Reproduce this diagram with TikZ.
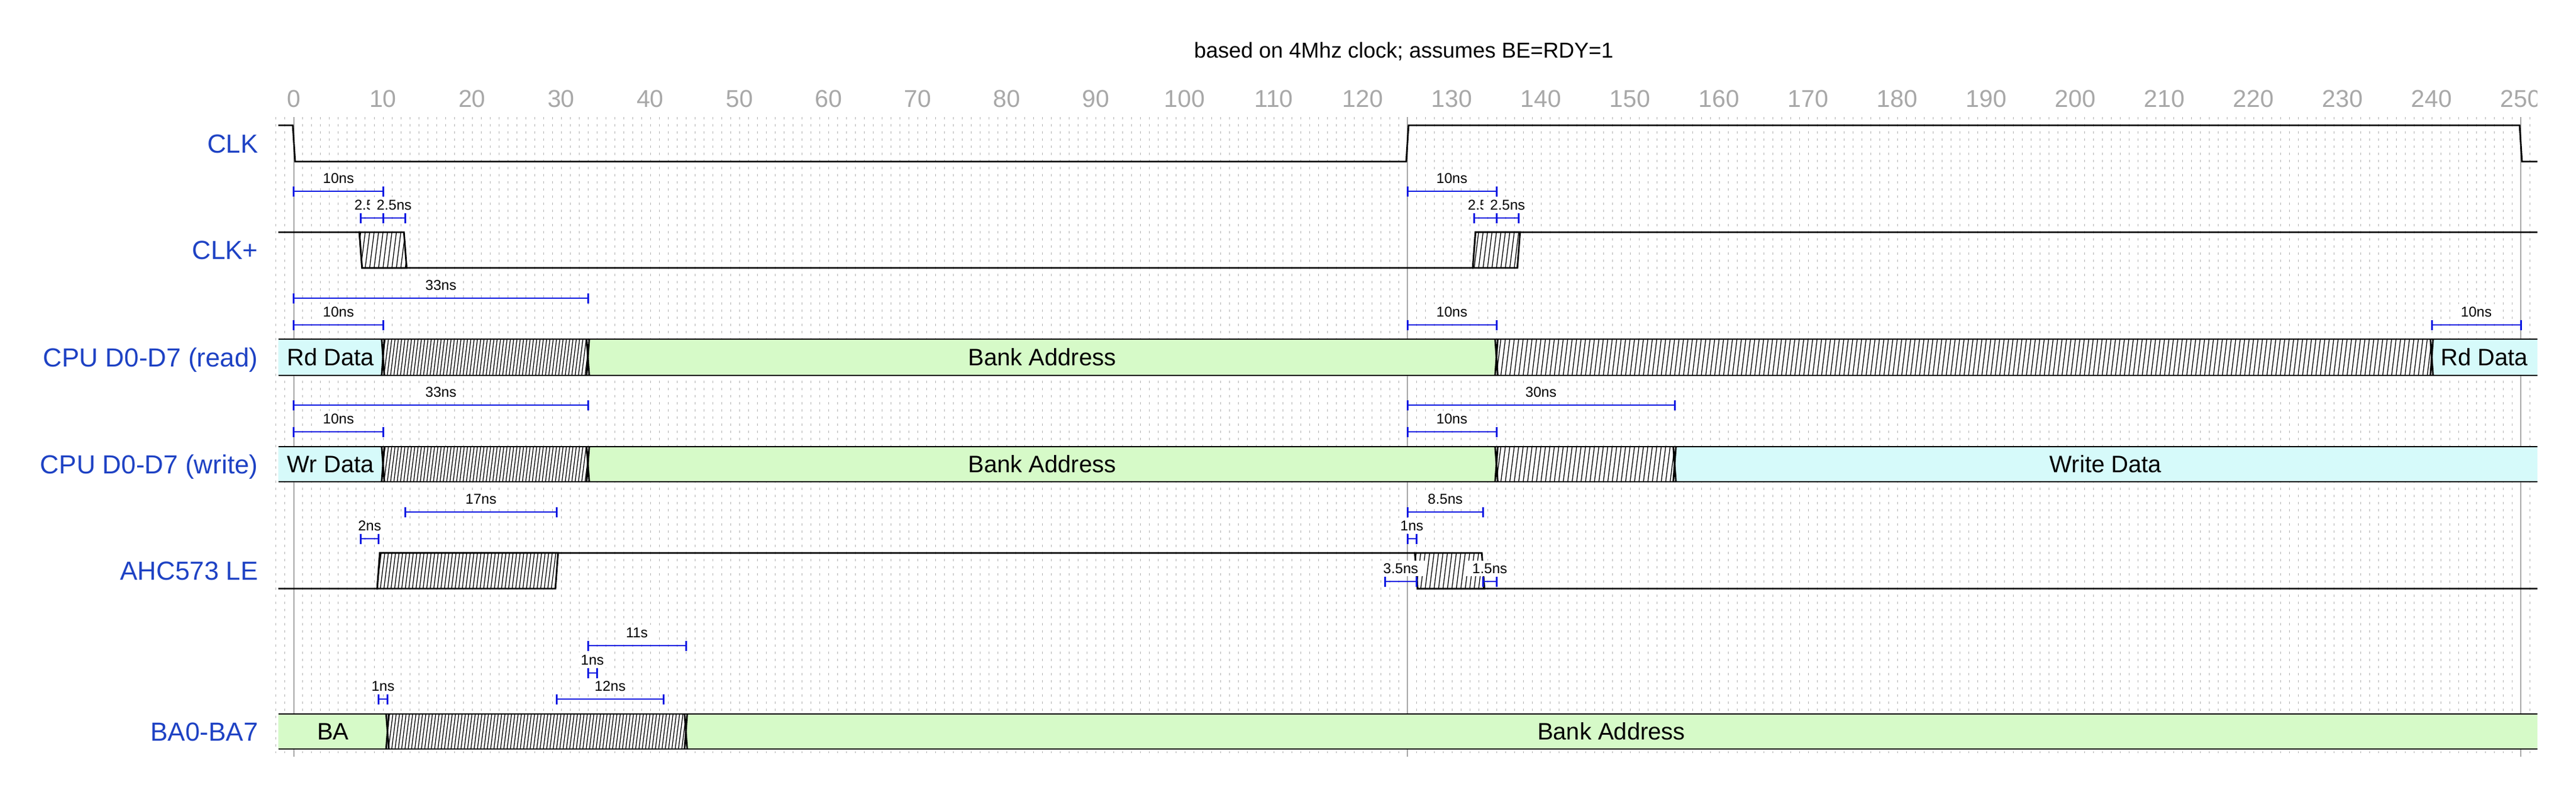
\documentclass[tikz,border=0pt]{standalone}
\usepackage{fontspec}
\setmainfont{Liberation Sans}
\definecolor{lblblue}{RGB}{30,66,196}
\definecolor{barblue}{RGB}{12,24,226}
\definecolor{busgreen}{RGB}{214,250,200}
\definecolor{buscyan}{RGB}{214,250,250}
\definecolor{axisgray}{RGB}{168,168,168}
\definecolor{griddot}{RGB}{178,178,178}
\tikzset{
 sig/.style={line width=1.4pt, black, line join=miter, line cap=butt},
 hatchline/.style={line width=0.65pt, black},
 gridline/.style={griddot, line width=0.5pt, dash pattern=on 2pt off 4pt},
 markerline/.style={axisgray, line width=1pt},
 axisnum/.style={font=\fontsize{20.5}{24}\selectfont, text=axisgray, inner sep=0pt},
 siglabel/.style={font=\fontsize{22}{26}\selectfont, text=lblblue, inner sep=0pt, anchor=east, text height=15.75pt, text depth=0pt},
 bustext/.style={font=\fontsize{20}{24}\selectfont, inner sep=0pt, text height=14.3pt, text depth=0pt},
 measlabel/.style={font=\fontsize{12}{14}\selectfont, fill=white, inner xsep=5.5pt, inner ysep=2pt, text height=8.6pt, text depth=0pt},
 measbar/.style={barblue, line width=1.3pt},
 meastick/.style={barblue, line width=1.5pt},
 titletext/.style={font=\fontsize{18.2}{22}\selectfont, inner sep=0pt},
}
% hatch lines from t0-1 to t1+1
\newcommand\hatchlines[5]{%
 \pgfmathtruncatemacro\hN{(#2-#1+2)/#5}%
 \foreach \i in {0,...,\hN}{\draw[hatchline] ({#1-1+\i*#5},#4) -- ({#1-0.5+\i*#5},#3);}}
% rising hatched transition box
\newcommand\hatchrise[5]{%
 \fill[white] (#1-0.15,#4) -- (#2-0.15,#4) -- (#2+0.15,#3) -- (#1+0.15,#3) -- cycle;
 \begin{scope}
 \clip (#1-0.15,#4) -- (#2-0.15,#4) -- (#2+0.15,#3) -- (#1+0.15,#3) -- cycle;
 \hatchlines{#1}{#2}{#3}{#4}{#5}
 \end{scope}
 \draw[sig] (#1-0.15,#4) -- (#2-0.15,#4) -- (#2+0.15,#3) -- (#1+0.15,#3) -- cycle;}
% falling hatched transition box
\newcommand\hatchfall[5]{%
 \fill[white] (#1-0.15,#3) -- (#2-0.15,#3) -- (#2+0.15,#4) -- (#1+0.15,#4) -- cycle;
 \begin{scope}
 \clip (#1-0.15,#3) -- (#2-0.15,#3) -- (#2+0.15,#4) -- (#1+0.15,#4) -- cycle;
 \hatchlines{#1}{#2}{#3}{#4}{#5}
 \end{scope}
 \draw[sig] (#1-0.15,#3) -- (#2-0.15,#3) -- (#2+0.15,#4) -- (#1+0.15,#4) -- cycle;}
% bus segments
\newcommand\busfill[5]{%
 \fill[#5] (#1+0.15,#3) -- (#2-0.15,#3) -- (#2,{(#3+#4)/2}) -- (#2-0.15,#4) -- (#1+0.15,#4) -- (#1,{(#3+#4)/2}) -- cycle;}
\newcommand\bushatch[5]{%
 \busfill{#1}{#2}{#3}{#4}{white}
 \begin{scope}
 \clip (#1+0.15,#3) -- (#2-0.15,#3) -- (#2,{(#3+#4)/2}) -- (#2-0.15,#4) -- (#1+0.15,#4) -- (#1,{(#3+#4)/2}) -- cycle;
 \hatchlines{#1}{#2}{#3}{#4}{#5}
 \end{scope}}
\newcommand\busedges[2]{%
 \draw[sig] (-1.75,#1) -- (253,#1);
 \draw[sig] (-1.75,#2) -- (253,#2);}
\newcommand\busx[3]{%
 \draw[sig] (#1-0.15,#2) -- (#1,{(#2+#3)/2}) -- (#1-0.15,#3);
 \draw[sig] (#1+0.15,#2) -- (#1,{(#2+#3)/2}) -- (#1+0.15,#3);}
% measurements
\newcommand\measlbl[5]{%
 \node[measlabel] (#1) at ({(#2+#3)/2},#4-22) {#5};}
\newcommand\measbar[3]{%
 \draw[measbar] (#1,#3) -- (#2,#3);
 \draw[meastick] (#1,#3-8.5) -- (#1,#3+8.5);
 \draw[meastick] (#2,#3-8.5) -- (#2,#3+8.5);}
\begin{document}
\begin{tikzpicture}[x=7.5pt,y=-0.5pt]
\fill[white] (-33,0) rectangle (256.2,1324);
\useasboundingbox (-33,0) rectangle (256.2,1324);
\begin{scope}
\clip (-33,0) rectangle (251.85,1324);
% grid
\foreach \t in {-2,...,251} \draw[gridline] (\t,197) -- (\t,1268);
\foreach \t in {0,125,250} \draw[markerline] (\t,197) -- (\t,1274);
\foreach \t in {0,10,...,250} \node[axisnum] (ax\t) at (\t,166) {\t};
\node[titletext] (title) at (124.6,87) {based on 4Mhz clock; assumes BE=RDY=1};
% signal names
\node[siglabel] (lclk) at (-4,241.5) {CLK};
\node[siglabel] (lclkp) at (-4,421) {CLK+};
\node[siglabel] (lrd) at (-4,601.5) {CPU D0-D7 (read)};
\node[siglabel] (lwr) at (-4,781.5) {CPU D0-D7 (write)};
\node[siglabel] (lle) at (-4,961) {AHC573 LE};
\node[siglabel] (lba) at (-4,1231.5) {BA0-BA7};
% CLK
\draw[sig] (-1.75,211) -- (-0.13,211) -- (0.13,272) -- (124.87,272) -- (125.13,211) -- (249.87,211) -- (250.13,272) -- (253,272);
% CLK+
\draw[sig] (-1.75,391) -- (7.35,391) -- (7.65,451) -- (132.35,451) -- (132.65,391) -- (253,391);
\hatchfall{7.5}{12.5}{391}{451}{0.5}
\hatchrise{132.5}{137.5}{391}{451}{0.5}
% CPU read
\fill[buscyan] (-1.75,571) -- (9.85,571) -- (10,601.5) -- (9.85,632) -- (-1.75,632) -- cycle;
\bushatch{10}{33}{571}{632}{0.37}
\busfill{33}{135}{571}{632}{busgreen}
\bushatch{135}{240}{571}{632}{0.5}
\fill[buscyan] (240.15,571) -- (253,571) -- (253,632) -- (240.15,632) -- (240,601.5) -- cycle;
\busedges{571}{632}
\busx{10}{571}{632}
\busx{33}{571}{632}
\busx{135}{571}{632}
\busx{240}{571}{632}
% CPU write
\fill[buscyan] (-1.75,752) -- (9.85,752) -- (10,781.5) -- (9.85,811) -- (-1.75,811) -- cycle;
\bushatch{10}{33}{752}{811}{0.37}
\busfill{33}{135}{752}{811}{busgreen}
\bushatch{135}{155}{752}{811}{0.5}
\fill[buscyan] (155.15,752) -- (253,752) -- (253,811) -- (155.15,811) -- (155,781.5) -- cycle;
\busedges{752}{811}
\busx{10}{752}{811}
\busx{33}{752}{811}
\busx{135}{752}{811}
\busx{155}{752}{811}
% AHC573 LE
\draw[sig] (-1.75,991) -- (9.35,991) -- (9.65,931) -- (125.85,931) -- (126.15,991) -- (253,991);
\hatchrise{9.5}{29.5}{931}{991}{0.4}
\hatchfall{126}{133.5}{931}{991}{0.5}
% BA0-BA7
\fill[busgreen] (-1.75,1202) -- (10.35,1202) -- (10.5,1231.5) -- (10.35,1261) -- (-1.75,1261) -- cycle;
\bushatch{10.5}{44}{1202}{1261}{0.37}
\fill[busgreen] (44.15,1202) -- (253,1202) -- (253,1261) -- (44.15,1261) -- (44,1231.5) -- cycle;
\busedges{1202}{1261}
\busx{10.5}{1202}{1261}
\busx{44}{1202}{1261}
% bus texts
\node[bustext] (trd1) at (4.125,601.5) {Rd Data};
\node[bustext] (trd2) at (84,601.5) {Bank Address};
\node[bustext] (trd3) at (245.9,601.5) {Rd Data};
\node[bustext] (twr1) at (4.125,781.5) {Wr Data};
\node[bustext] (twr2) at (84,781.5) {Bank Address};
\node[bustext] (twr3) at (203.4,781.5) {Write Data};
\node[bustext] (tba1) at (4.4,1231.5) {BA};
\node[bustext] (tba2) at (147.9,1231.5) {Bank Address};
% measurement labels
\measlbl{mA}{0}{10}{322}{10ns}
\measlbl{mB}{7.5}{10}{367}{2.5ns}
\measlbl{mC}{10}{12.5}{367}{2.5ns}
\measlbl{mD}{125}{135}{322}{10ns}
\measlbl{mE}{132.5}{135}{367}{2.5ns}
\measlbl{mF}{135}{137.5}{367}{2.5ns}
\measlbl{mG}{0}{33}{502}{33ns}
\measlbl{mH}{0}{10}{547}{10ns}
\measlbl{mI}{125}{135}{547}{10ns}
\measlbl{mJ}{240}{250}{547}{10ns}
\measlbl{mK}{0}{33}{682}{33ns}
\measlbl{mL}{0}{10}{727}{10ns}
\measlbl{mM}{125}{155}{682}{30ns}
\measlbl{mN}{125}{135}{727}{10ns}
\measlbl{mO}{12.5}{29.5}{862}{17ns}
\measlbl{mP}{7.5}{9.5}{907}{2ns}
\measlbl{mQ}{125}{133.5}{862}{8.5ns}
\measlbl{mR}{125}{126}{907}{1ns}
\measlbl{mS}{122.5}{126}{979}{3.5ns}
\measlbl{mT}{133.5}{135}{979}{1.5ns}
\measlbl{mU}{33}{44}{1087}{11s}
\measlbl{mV}{33}{34}{1133}{1ns}
\measlbl{mW}{9.5}{10.5}{1177}{1ns}
\measlbl{mX}{29.5}{41.5}{1177}{12ns}
% measurement bars
\measbar{0}{10}{322}
\measbar{7.5}{10}{367}
\measbar{10}{12.5}{367}
\measbar{125}{135}{322}
\measbar{132.5}{135}{367}
\measbar{135}{137.5}{367}
\measbar{0}{33}{502}
\measbar{0}{10}{547}
\measbar{125}{135}{547}
\measbar{240}{250}{547}
\measbar{0}{33}{682}
\measbar{0}{10}{727}
\measbar{125}{155}{682}
\measbar{125}{135}{727}
\measbar{12.5}{29.5}{862}
\measbar{7.5}{9.5}{907}
\measbar{125}{133.5}{862}
\measbar{125}{126}{907}
\measbar{122.5}{126}{979}
\measbar{133.5}{135}{979}
\measbar{33}{44}{1087}
\measbar{33}{34}{1133}
\measbar{9.5}{10.5}{1177}
\measbar{29.5}{41.5}{1177}
\end{scope}
\end{tikzpicture}
\end{document}
